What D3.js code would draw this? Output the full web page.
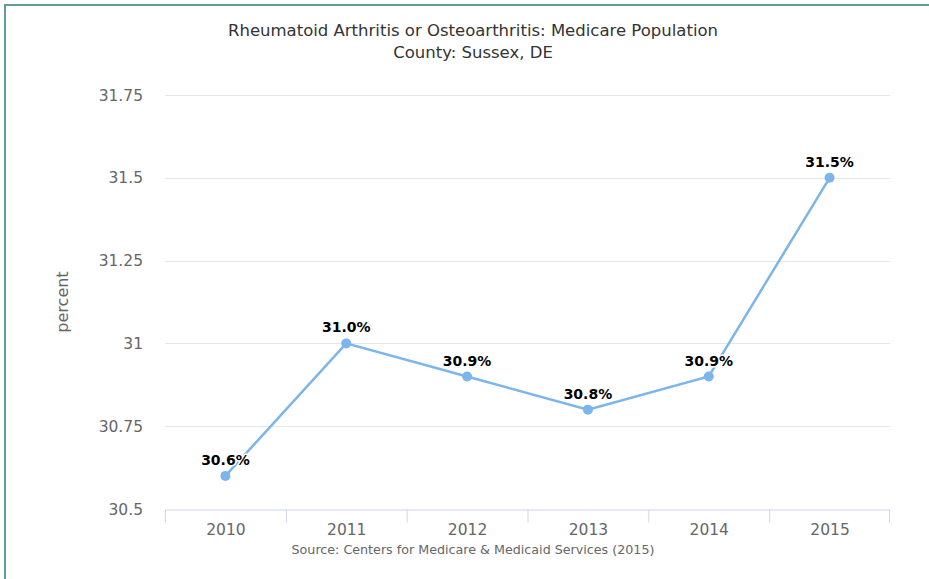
<!DOCTYPE html>
<html><head><meta charset="utf-8">
<script src="https://cdn.jsdelivr.net/npm/d3@7"></script>
<style>
html,body{margin:0;padding:0;background:#fff;}
svg{display:block;}
text{font-family:"DejaVu Sans",Verdana,sans-serif;}
</style></head>
<body>
<svg id="chart" width="929" height="579"></svg>
<script>
const categories = ["2010","2011","2012","2013","2014","2015"];
const values = [30.6, 31.0, 30.9, 30.8, 30.9, 31.5];
const yTicks = [30.5, 30.75, 31, 31.25, 31.5, 31.75];
const yTickLabels = ["30.5","30.75","31","31.25","31.5","31.75"];
const titleLines = ["Rheumatoid Arthritis or Osteoarthritis: Medicare Population","County: Sussex, DE"];
const yTitle = "percent";
const sourceText = "Source: Centers for Medicare & Medicaid Services (2015)";

const svg = d3.select("#chart");
const W = 929, H = 579;
const m = {left:165, right:39, top:95, bottom:70};
const iw = W - m.left - m.right, ih = H - m.top - m.bottom;

// frame border
svg.append("path").attr("d", `M5,${H} L5,5 L${W},5`).attr("fill","none")
  .attr("stroke","#5f9f98").attr("stroke-width",2);

const x = d3.scaleBand().domain(categories).range([m.left, m.left+iw]);
const y = d3.scaleLinear().domain([30.5, 31.75]).range([m.top+ih, m.top]);

// gridlines
svg.append("g").selectAll("line").data(yTicks.slice(1)).join("line")
  .attr("x1", m.left).attr("x2", m.left+iw)
  .attr("y1", d=>Math.round(y(d))+0.5).attr("y2", d=>Math.round(y(d))+0.5)
  .attr("stroke","#e6e6e6").attr("stroke-width",1);

// y labels
svg.append("g").selectAll("text").data(yTicks).join("text")
  .attr("x", m.left-22).attr("y", d=>y(d)+5.5)
  .attr("text-anchor","end").attr("font-size",15.5).attr("fill","#666")
  .text((d,i)=>yTickLabels[i]);

// x axis
const xAxis = d3.axisBottom(x).tickSize(13).tickSizeOuter(0).tickFormat(d=>d);
const gx = svg.append("g").attr("transform",`translate(0,${Math.round(y(30.5))+0.5})`).call(xAxis);
gx.select(".domain").attr("stroke","#ccd6eb");
gx.selectAll(".tick").attr("transform", d=>`translate(${x(d)+0.5},0)`);
gx.selectAll(".tick line").attr("stroke","#ccd6eb");
gx.selectAll(".tick text").attr("x", x.bandwidth()/2).attr("y",14).attr("font-size",15.5).attr("fill","#666")
  .attr("font-family","DejaVu Sans, sans-serif");
// final right tick
gx.append("line").attr("x1", m.left+iw-0.5).attr("x2", m.left+iw-0.5).attr("y1",0).attr("y2",13).attr("stroke","#ccd6eb");

// y title
svg.append("text").attr("transform",`translate(68,${(m.top+m.top+ih)/2}) rotate(-90)`)
  .attr("text-anchor","middle").attr("font-size",16).attr("fill","#666").text(yTitle);

// title
svg.append("text").attr("x", 473).attr("y", 36).attr("text-anchor","middle")
  .attr("font-size",16.5).attr("fill","#333")
  .selectAll("tspan").data(titleLines).join("tspan")
  .attr("x",473).attr("dy",(d,i)=>i?22:0).text(d=>d);

// source
svg.append("text").attr("x", 473).attr("y", 554).attr("text-anchor","middle")
  .attr("font-size",12.7).attr("fill","#666").text(sourceText);

const cx = (d,i)=>x(categories[i]) + x.bandwidth()/2;
// line
svg.append("path").datum(values)
  .attr("d", d3.line().x(cx).y(d=>y(d)))
  .attr("fill","none").attr("stroke","#7cb5ec").attr("stroke-width",2.5);

svg.append("g").selectAll("circle").data(values).join("circle")
  .attr("cx", cx).attr("cy", d=>y(d)).attr("r",5).attr("fill","#7cb5ec");

// data labels
svg.append("g").selectAll("text").data(values).join("text")
  .attr("x", cx).attr("y", d=>y(d)-11)
  .attr("text-anchor","middle").attr("font-size",14).attr("font-weight","bold")
  .attr("fill","#000").attr("stroke","#fff").attr("stroke-width",3).attr("paint-order","stroke")
  .attr("stroke-linejoin","round")
  .text(d=>d.toFixed(1)+"%");
</script>
</body></html>
